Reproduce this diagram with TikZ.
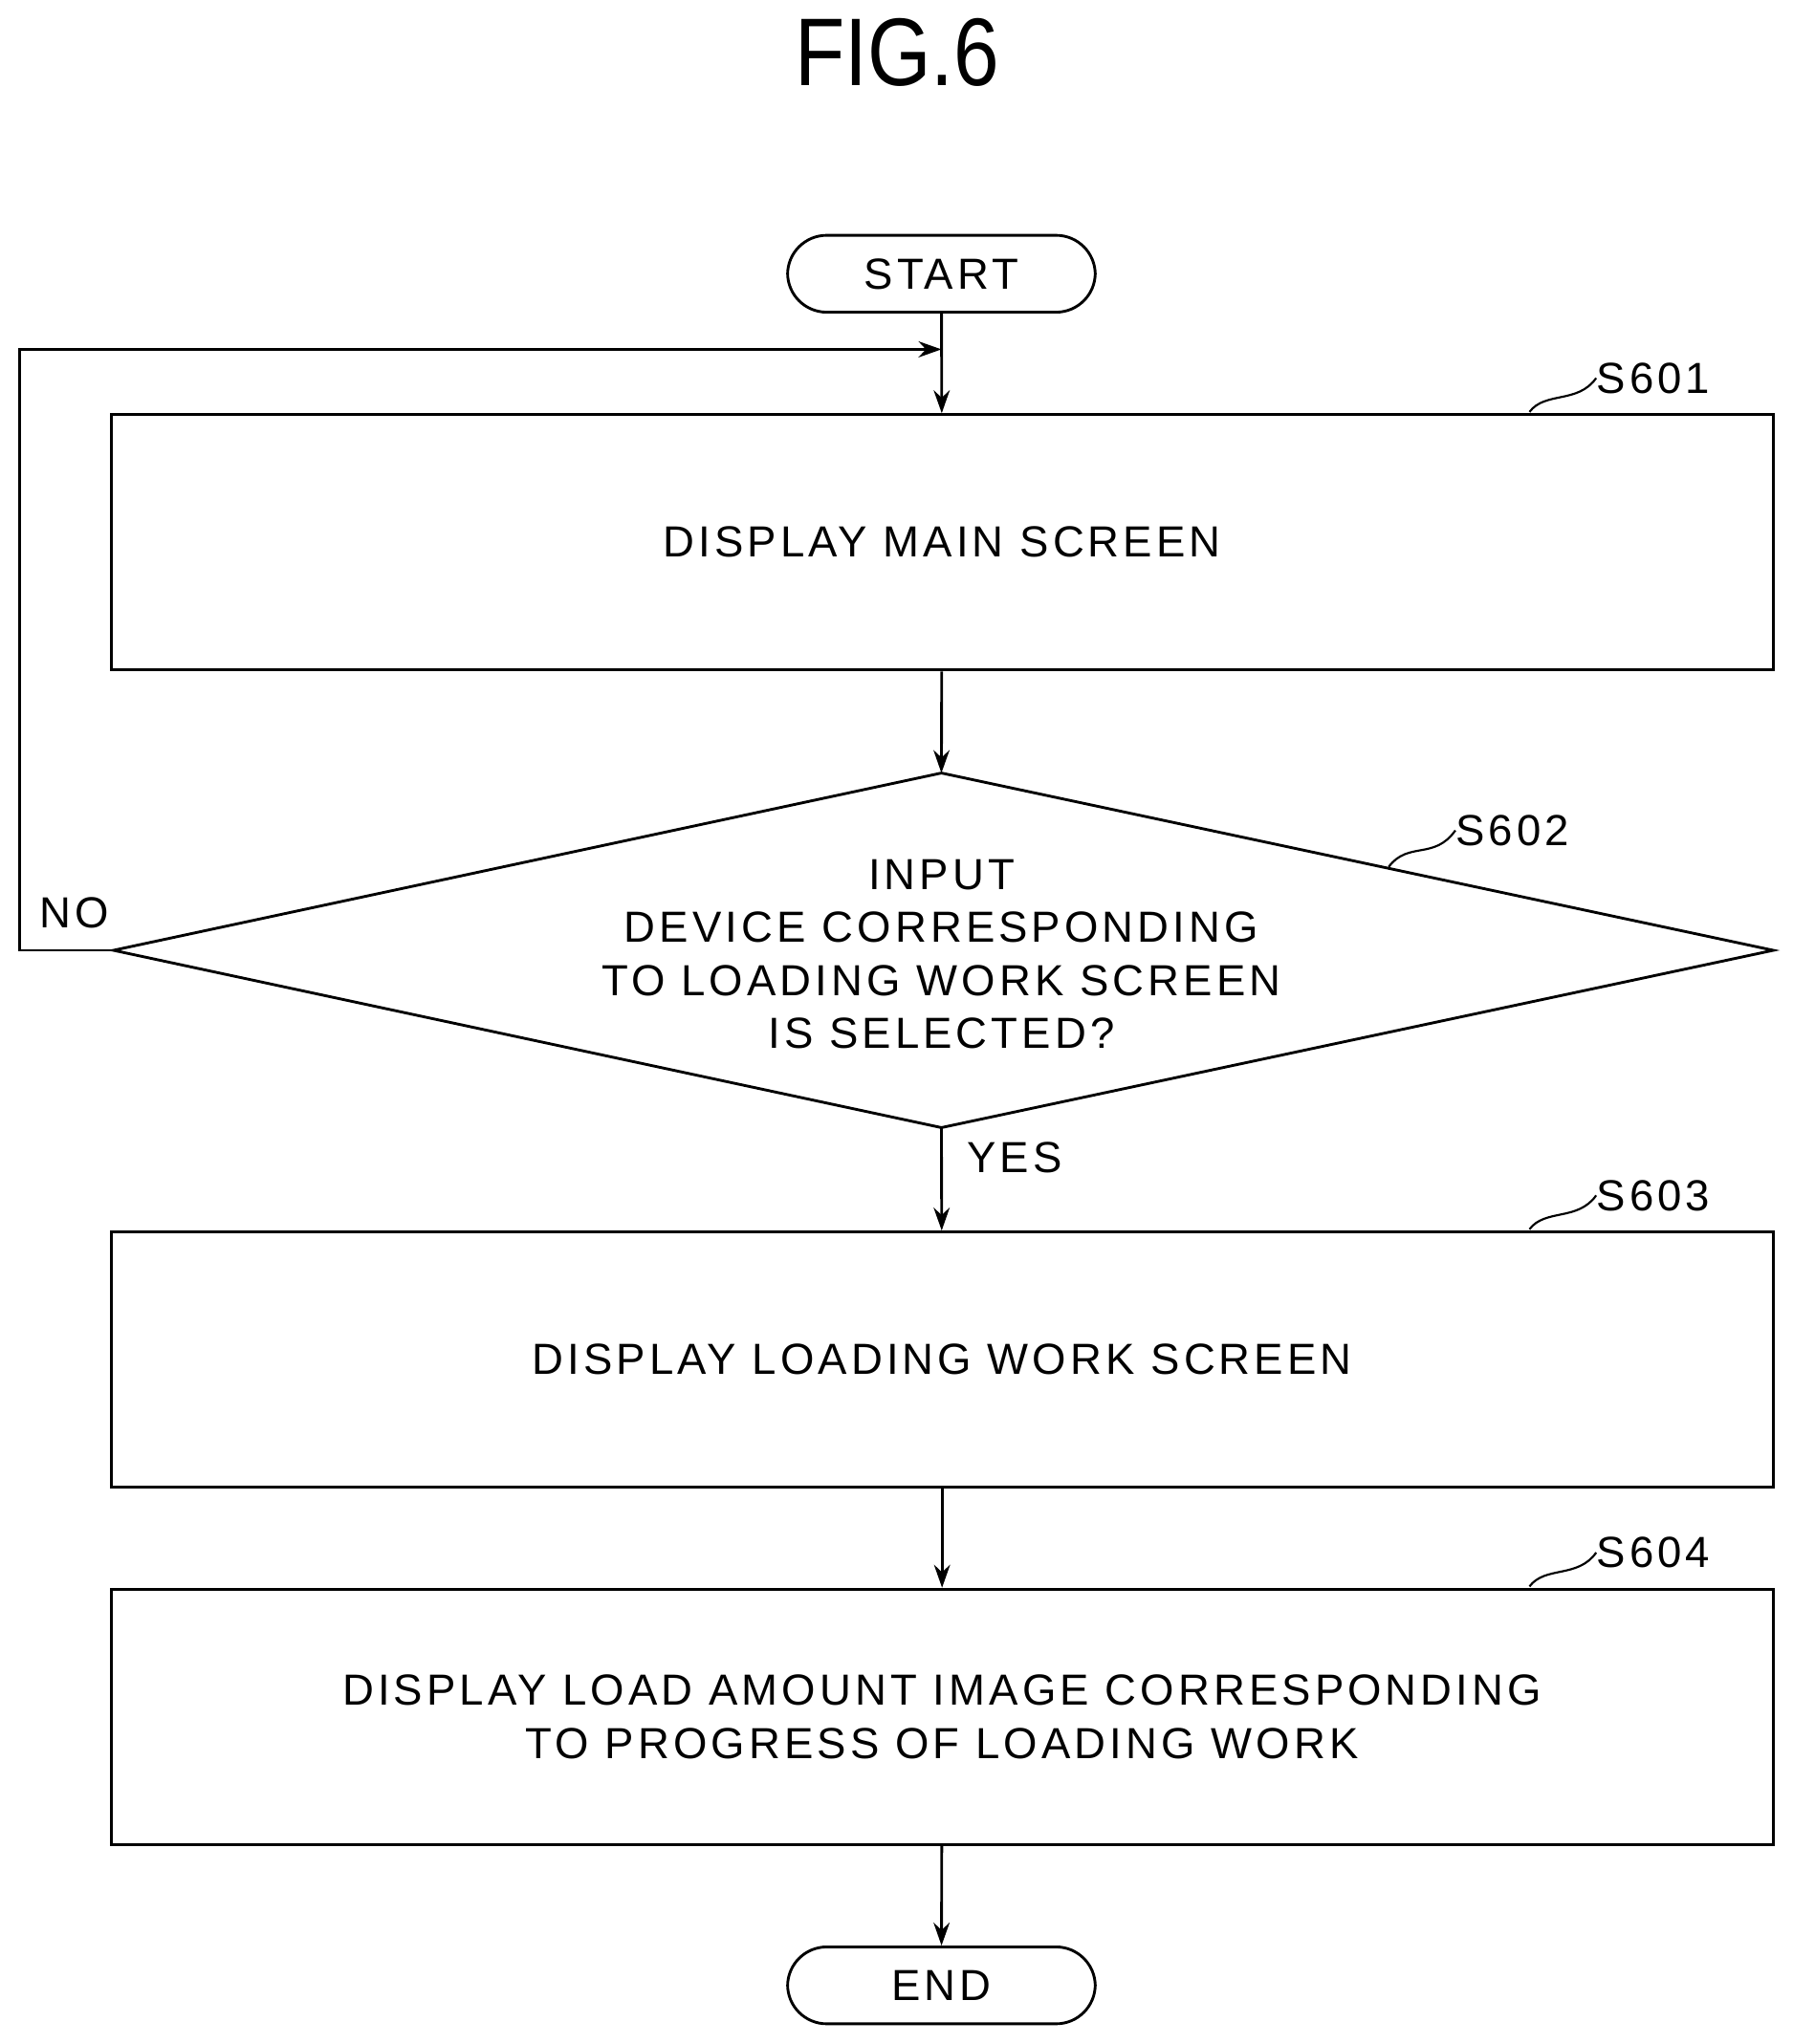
\documentclass[tikz,border=0pt]{standalone}
\usepackage{fontspec}
\setmainfont{Liberation Sans}[LetterSpace=9]
\newfontfamily\titlefont{Liberation Sans}[FakeStretch=0.85]
\usetikzlibrary{arrows.meta}
\begin{document}
\begin{tikzpicture}[x=0.02cm,y=-0.02cm,
  box/.style={draw,line width=1.2pt,minimum width=25.5cm,minimum height=3.92cm,font=\fontsize{19}{24}\selectfont,align=center},
  term/.style={draw,line width=1.2pt,rounded corners=0.6cm,minimum width=4.72cm,minimum height=1.18cm,font=\fontsize{19}{24}\selectfont},
  lab/.style={font=\fontsize{19}{24}\selectfont},
  arr/.style={line width=1.2pt,-{Stealth[length=10pt,width=7pt]}},
  every node/.style={inner sep=0pt}]
\useasboundingbox (0,0) rectangle (1375,1568);
\node[font=\titlefont\fontsize{42}{44}\selectfont] (title) at (688,40) {FIG.6};
\node[term] (start) at (722,210) {START};
\node[box] (b1) at (722.5,416) {DISPLAY MAIN SCREEN};
\coordinate (dt) at (722,593);
\coordinate (db) at (722,865);
\coordinate (dl) at (87,729);
\coordinate (dr) at (1360,729);
\draw[line width=1.2pt] (dt) -- (dr) -- (db) -- (dl) -- cycle;
\node[lab,align=center,font=\fontsize{19}{23.2}\selectfont] (dtext) at (722,732) {INPUT\\DEVICE CORRESPONDING\\TO LOADING WORK SCREEN\\IS SELECTED?};
\node[box] (b3) at (722.5,1043) {DISPLAY LOADING WORK SCREEN};
\node[box,font=\fontsize{19}{23.2}\selectfont] (b4) at (722.5,1317) {DISPLAY LOAD AMOUNT IMAGE CORRESPONDING\\TO PROGRESS OF LOADING WORK};
\node[term] (end) at (722,1523) {END};
\coordinate (j) at (722,268);
\draw[arr] (start) -- (b1);
\draw[arr] (dl) -- (15,729) -- (15,268) -- (j);
\draw[arr] (b1) -- (dt);
\draw[arr] (db) -- (b3);
\draw[arr] (b3) -- (b4);
\draw[arr] (b4) -- (end);
\node[lab] (no) at (57,700) {NO};
\node[lab] (yes) at (778,888) {YES};
\node[lab] (s1) at (1268,290) {S601};
\node[lab] (s2) at (1160,637) {S602};
\node[lab] (s3) at (1268,917) {S603};
\node[lab] (s4) at (1268,1191) {S604};
\draw[line width=0.9pt] (1173,316) .. controls (1185,300) and (1210,310) .. (s1.west);
\draw[line width=0.9pt] (1065,665) .. controls (1080,645) and (1100,660) .. (s2.west);
\draw[line width=0.9pt] (1173,943) .. controls (1185,927) and (1210,937) .. (s3.west);
\draw[line width=0.9pt] (1173,1217) .. controls (1185,1201) and (1210,1211) .. (s4.west);
\end{tikzpicture}
\end{document}
